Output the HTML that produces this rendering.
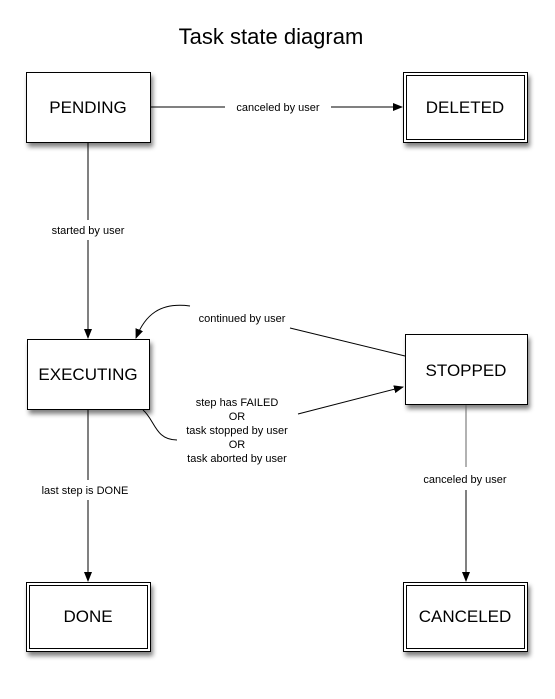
<!DOCTYPE html>
<html><head><style>
body{margin:0;background:#fff}
svg text{font-family:"Liberation Sans",sans-serif;fill:#000}
</style></head><body>
<svg width="555" height="694" viewBox="0 0 555 694" xmlns="http://www.w3.org/2000/svg">
<defs>
<filter id="sh" x="-20%" y="-20%" width="150%" height="150%"><feGaussianBlur in="SourceAlpha" stdDeviation="2.5"/><feOffset dx="2" dy="4"/><feComponentTransfer><feFuncA type="linear" slope="0.5"/></feComponentTransfer><feMerge><feMergeNode/><feMergeNode in="SourceGraphic"/></feMerge></filter>
<marker id="a" markerWidth="10" markerHeight="8" refX="9" refY="4" orient="auto" markerUnits="userSpaceOnUse"><path d="M0,0 L10,4 L0,8z" fill="#000"/></marker>
</defs>
<text x="271" y="44" font-size="22" text-anchor="middle">Task state diagram</text>
<g fill="#fff" stroke="#000" stroke-width="1" filter="url(#sh)">
<rect x="26.5" y="72.5" width="124" height="70"/>
<rect x="403.5" y="72.5" width="124" height="70"/>
<rect x="27.5" y="339.5" width="122" height="70"/>
<rect x="405.5" y="334.5" width="122" height="70"/>
<rect x="26.5" y="582.5" width="124" height="69"/>
<rect x="403.5" y="582.5" width="124" height="69"/>
</g>
<g fill="none" stroke="#000">
<rect x="406.5" y="75.5" width="118" height="64"/>
<rect x="29.5" y="585.5" width="118" height="63"/>
<rect x="406.5" y="585.5" width="118" height="63"/>
</g>
<g font-size="17" text-anchor="middle">
<text x="88" y="113">PENDING</text>
<text x="465" y="113">DELETED</text>
<text x="88" y="380">EXECUTING</text>
<text x="466" y="376">STOPPED</text>
<text x="88" y="622">DONE</text>
<text x="465" y="622">CANCELED</text>
</g>
<g stroke="#000" fill="none" stroke-width="1">
<line x1="151" y1="107" x2="225" y2="107"/>
<line x1="331" y1="107" x2="402" y2="107" marker-end="url(#a)"/>
<line x1="88" y1="143" x2="88" y2="220"/>
<line x1="88" y1="240" x2="88" y2="338" marker-end="url(#a)"/>
<line x1="88" y1="410" x2="88" y2="480"/>
<line x1="88" y1="500" x2="88" y2="581" marker-end="url(#a)"/>
<line x1="466" y1="405" x2="466" y2="467" stroke="#666"/>
<line x1="466" y1="490" x2="466" y2="581" marker-end="url(#a)"/>
<line x1="405" y1="356" x2="290" y2="328"/>
<path d="M190,306 C160,302 145,315 136,338" marker-end="url(#a)"/>
<path d="M143,410 C155,420 155,440 177,440"/>
<line x1="298" y1="414" x2="403" y2="387" marker-end="url(#a)"/>
</g>
<g font-size="11" text-anchor="middle">
<text x="278" y="111">canceled by user</text>
<text x="88" y="234">started by user</text>
<text x="85" y="494">last step is DONE</text>
<text x="465" y="483">canceled by user</text>
<text x="242" y="322">continued by user</text>
<text x="237" y="406">step has FAILED</text>
<text x="237" y="420">OR</text>
<text x="237" y="434">task stopped by user</text>
<text x="237" y="448">OR</text>
<text x="237" y="462">task aborted by user</text>
</g>
</svg>
</body></html>
